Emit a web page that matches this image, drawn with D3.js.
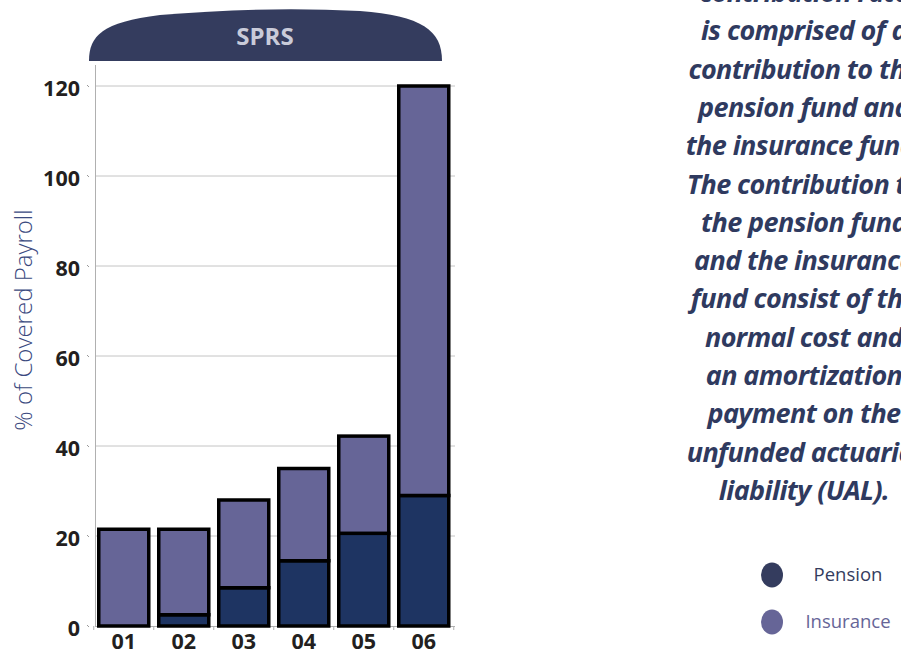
<!DOCTYPE html>
<html>
<head>
<meta charset="utf-8">
<script src="https://cdn.jsdelivr.net/npm/d3@7"></script>
<style>
  body { margin: 0; background: #fff; }
  svg { display: block; }
</style>
</head>
<body>
<div id="graphic"></div>
<script>
const years = ['01', '02', '03', '04', '05', '06'];
const pension = [0, 2.5, 8.5, 14.5, 20.6, 29];
const insurance = [21.5, 19, 19.5, 20.5, 21.6, 91];
const yTicks = [0, 20, 40, 60, 80, 100, 120];
const note = [
  'contribution rate',
  'is comprised of a',
  'contribution to the',
  'pension fund and',
  'the insurance fund.',
  'The contribution to',
  'the pension fund',
  'and the insurance',
  'fund consist of the',
  'normal cost and',
  'an amortization',
  'payment on the',
  'unfunded actuarial',
  'liability (UAL).'
];
const legendItems = ['Pension', 'Insurance'];

const width = 901, height = 654;
const colors = {Pension: '#1e3462', Insurance: '#666597'};
const font = "'Open Sans', 'DejaVu Sans', sans-serif";

const svg = d3.select("#graphic")
  .append("svg")
  .attr("width", width)
  .attr("height", height)
  .attr("font-family", font);

const x = d3.scaleBand()
  .domain(years)
  .range([93.75, 453.75])
  .paddingInner(1/6)
  .paddingOuter(1/12);

const y = d3.scaleLinear()
  .domain([0, 120])
  .range([626, 86]);

// banner
svg.append("path")
  .attr("fill", "#343c5e")
  .attr("d", "M89,61 C89,36 102,22 160,15 Q265,6 360,11 C422,16 442,30 442,61 Z");
svg.append("text")
  .attr("x", 265)
  .attr("y", 45)
  .attr("text-anchor", "middle")
  .attr("font-size", 24)
  .attr("font-weight", "bold")
  .attr("fill", "#c9cbd9")
  .text("SPRS");

// grid
svg.append("g")
  .selectAll("line")
  .data(yTicks.slice(1))
  .join("line")
    .attr("x1", 96)
    .attr("x2", 455)
    .attr("y1", d => y(d))
    .attr("y2", d => y(d))
    .attr("stroke", "#c4c4c4")
    .attr("stroke-width", 1);

svg.append("line")
  .attr("x1", 95.5).attr("x2", 95.5)
  .attr("y1", 65).attr("y2", y(0))
  .attr("stroke", "#b0b0b0");
svg.append("line")
  .attr("x1", 95).attr("x2", 455)
  .attr("y1", y(0) + 0.5).attr("y2", y(0) + 0.5)
  .attr("stroke", "#b0b0b0");

// bottom ticks on band edges
const edges = years.map(d => x(d) - x.step() * x.paddingInner() / 2).concat([x.range()[1]]);
svg.append("g")
  .selectAll("line")
  .data(edges)
  .join("line")
    .attr("x1", d => d).attr("x2", d => d)
    .attr("y1", y(0)).attr("y2", y(0) + 4)
    .attr("stroke", "#b0b0b0");

// y tick labels
const ylab = svg.append("g")
  .selectAll("g")
  .data(yTicks)
  .join("g");
ylab.append("text")
  .attr("x", 80)
  .attr("y", d => y(d) + 9.5)
  .attr("text-anchor", "end")
  .attr("font-size", 21.5)
  .attr("font-weight", "bold")
  .attr("fill", "#231f20")
  .text(d => d);
ylab.append("line")
  .attr("x1", 87).attr("x2", 89)
  .attr("y1", d => y(d) - 1).attr("y2", d => y(d) + 1)
  .attr("stroke", "#999");

// x labels
svg.append("g")
  .selectAll("text")
  .data(years)
  .join("text")
    .attr("x", d => x(d) + x.bandwidth() / 2)
    .attr("y", 649)
    .attr("text-anchor", "middle")
    .attr("font-size", 21.5)
    .attr("font-weight", "bold")
    .attr("fill", "#231f20")
    .text(d => d);

// y axis title
svg.append("text")
  .attr("transform", "translate(32, 320) rotate(-90)")
  .attr("text-anchor", "middle")
  .attr("font-size", 24)
  .attr("font-weight", 300)
  .attr("fill", "#3b4a80")
  .text("% of Covered Payroll");

// stacked bars
const rows = years.map((d, i) => ({year: d, Pension: pension[i], Insurance: insurance[i]}));
const stack = d3.stack().keys(legendItems)(rows);

svg.append("g")
  .selectAll("g")
  .data(stack)
  .join("g")
    .attr("fill", d => colors[d.key])
  .selectAll("rect")
  .data(d => d)
  .join("rect")
    .attr("x", d => x(d.data.year))
    .attr("width", x.bandwidth())
    .attr("y", d => y(d[1]))
    .attr("height", d => y(d[0]) - y(d[1]))
    .attr("stroke", "#000")
    .attr("stroke-width", 3.5);

// note text
svg.append("g")
  .attr("font-size", 27)
  .attr("font-weight", "bold")
  .attr("font-style", "italic")
  .attr("letter-spacing", -0.6)
  .attr("fill", "#2f3a5f")
  .attr("text-anchor", "middle")
  .selectAll("text")
  .data(note)
  .join("text")
    .attr("x", 804)
    .attr("y", (d, i) => 2 + i * 38.3)
    .text(d => d);

// legend
const leg = svg.append("g")
  .selectAll("g")
  .data(legendItems)
  .join("g")
    .attr("transform", (d, i) => `translate(0, ${575 + i * 47})`);
leg.append("ellipse")
  .attr("cx", 772)
  .attr("cy", 0)
  .attr("rx", 11)
  .attr("ry", 12.5)
  .attr("fill", d => d == 'Pension' ? '#343c5e' : '#666597');
leg.append("text")
  .attr("x", 848)
  .attr("y", 6)
  .attr("text-anchor", "middle")
  .attr("font-size", 18.5)
  .attr("fill", d => d == 'Pension' ? '#343c5e' : '#666597')
  .text(d => d);
</script>
</body>
</html>
